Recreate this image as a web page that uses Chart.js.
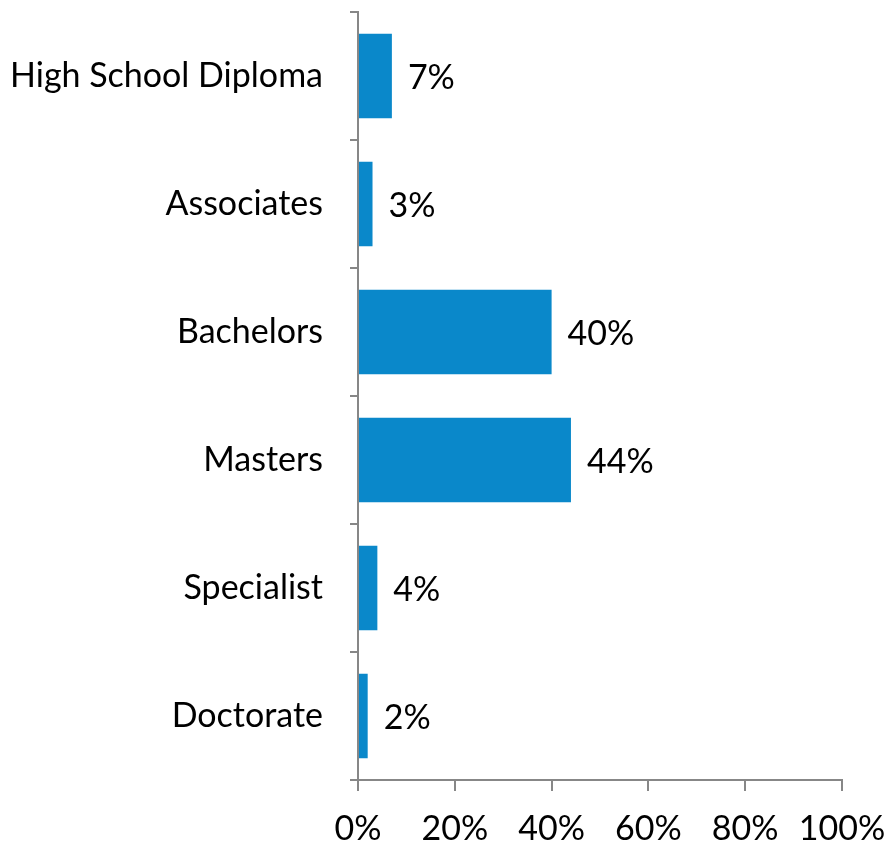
<!DOCTYPE html>
<html>
<head>
<meta charset="utf-8">
<script src="https://cdn.jsdelivr.net/npm/chart.js@4/dist/chart.umd.min.js"></script>
<style>
  html, body { margin: 0; padding: 0; background: #ffffff; }
  #wrap { width: 888px; height: 846px; }
</style>
</head>
<body>
<div id="wrap"><canvas id="chart" width="888" height="846"></canvas></div>
<script>
// Highest degree held, share of respondents (%)
const categories = ['High School Diploma', 'Associates', 'Bachelors', 'Masters', 'Specialist', 'Doctorate'];
const shares = [7, 3, 40, 44, 4, 2];
const axisTicks = [0, 20, 40, 60, 80, 100];

const FONT = 'Lato, "Open Sans", sans-serif';
const FONT_SIZE = 34;
const AXIS_GREY = '#878787';

// Writes "n%" just past the end of each bar
const valueLabels = {
  id: 'valueLabels',
  afterDatasetsDraw(chart) {
    const ctx = chart.ctx;
    const meta = chart.getDatasetMeta(0);
    ctx.save();
    ctx.font = FONT_SIZE + 'px ' + FONT;
    ctx.fillStyle = '#000000';
    ctx.textAlign = 'left';
    ctx.textBaseline = 'middle';
    meta.data.forEach((bar, i) => {
      ctx.fillText(shares[i] + '%', bar.x + 16, bar.y + 2);
    });
    ctx.restore();
  }
};

new Chart(document.getElementById('chart'), {
  type: 'bar',
  data: {
    labels: categories,
    datasets: [{
      data: shares,
      backgroundColor: '#0a88ca',
      borderWidth: 0,
      categoryPercentage: 1,
      barPercentage: 0.66
    }]
  },
  options: {
    indexAxis: 'y',
    responsive: false,
    animation: false,
    layout: { padding: { top: 12, right: 46, left: 0, bottom: 0 } },
    plugins: { legend: { display: false }, tooltip: { enabled: false } },
    scales: {
      x: {
        min: 0,
        max: 100,
        afterBuildTicks(scale) { scale.ticks = axisTicks.map(v => ({ value: v })); },
        afterFit(scale) {
          scale.height = 66;
          scale.paddingLeft = 0;
          scale.paddingRight = 0;
        },
        border: { color: AXIS_GREY, width: 2 },
        grid: { drawOnChartArea: false, drawTicks: true, tickLength: 11, color: AXIS_GREY, lineWidth: 2 },
        ticks: {
          color: '#000000',
          font: { family: FONT, size: FONT_SIZE },
          padding: 18,
          maxRotation: 0,
          callback: v => v + '%'
        }
      },
      y: {
        afterFit(scale) {
          scale.width = 358;
          scale.paddingTop = 0;
          scale.paddingBottom = 0;
        },
        border: { color: AXIS_GREY, width: 2 },
        grid: { drawOnChartArea: false, drawTicks: true, tickLength: 8, color: AXIS_GREY, lineWidth: 2, offset: true },
        ticks: {
          color: '#000000',
          font: { family: FONT, size: FONT_SIZE },
          padding: 27
        }
      }
    }
  },
  plugins: [valueLabels]
});
</script>
</body>
</html>
